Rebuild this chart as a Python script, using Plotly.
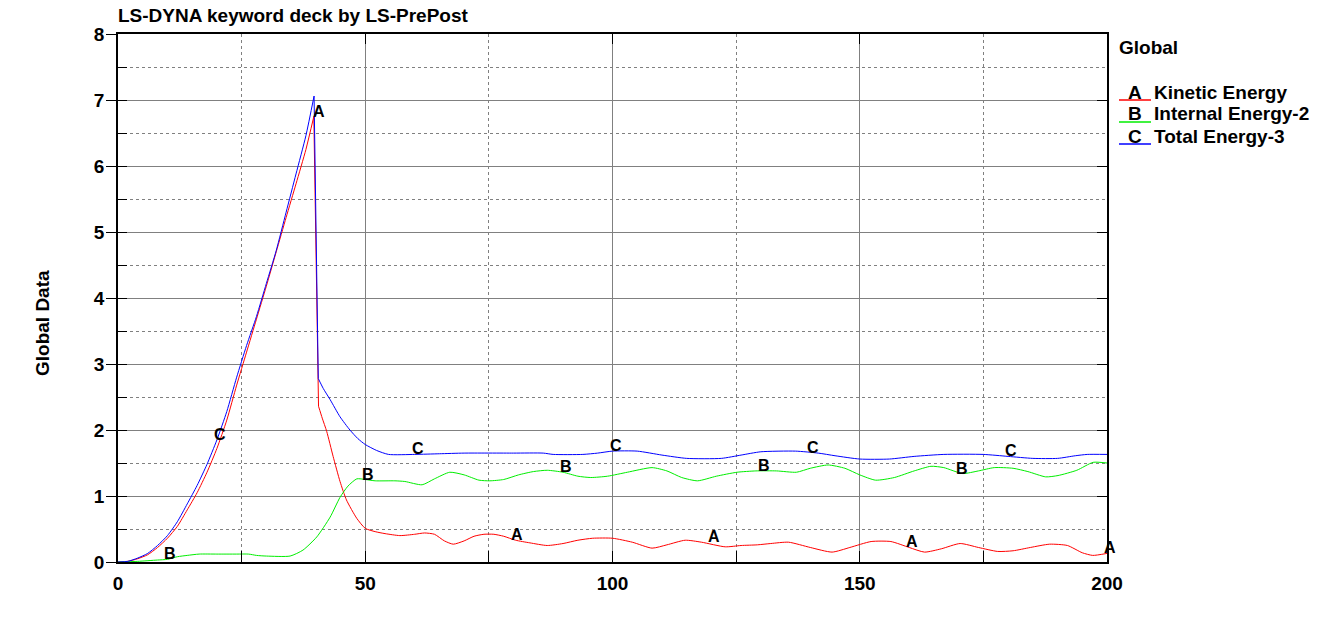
import numpy as np
import plotly.graph_objects as go

# ---------------- data ----------------
t_ke = [0, 2, 4, 6, 8, 10, 12, 14, 16, 18, 20, 22, 24, 26, 28, 30, 32, 34, 36, 38, 39.6,
        40.55, 41.3, 42.2, 43.5, 44.9, 46.2, 48.3, 50, 52, 54, 57, 60, 62, 64, 66, 67.8, 70, 72,
        74, 76, 78, 80.4, 83.3, 86.8, 90, 93, 96, 100, 104, 108, 111, 114.7, 118, 122.8, 126,
        129.3, 132, 135.6, 140, 144.4, 148, 152.3, 156.3, 160, 163.1, 166.5, 170.3, 174, 177.9,
        181, 184.5, 188.4, 192, 195, 197.1, 200]
kinetic = [0, 0.01, 0.05, 0.11, 0.22, 0.36, 0.54, 0.79, 1.05, 1.36, 1.72, 2.15, 2.68, 3.18, 3.68,
           4.18, 4.7, 5.22, 5.73, 6.25, 6.75, 2.36, 2.18, 1.98, 1.6, 1.22, 0.94, 0.66, 0.51,
           0.46, 0.43, 0.40, 0.42, 0.44, 0.42, 0.32, 0.27, 0.32, 0.39, 0.42, 0.42, 0.39, 0.33,
           0.29, 0.25, 0.28, 0.33, 0.36, 0.36, 0.30, 0.21, 0.26, 0.33, 0.30, 0.23, 0.25, 0.26,
           0.28, 0.30, 0.22, 0.15, 0.22, 0.31, 0.31, 0.22, 0.15, 0.20, 0.28, 0.22, 0.16, 0.17,
           0.22, 0.27, 0.25, 0.14, 0.10, 0.13]

t_ie = [0, 4, 8, 10, 12, 14, 16.4, 20, 24, 26.4, 28, 30, 34.8, 37.4, 40.2, 42.9, 44.9, 46.5, 48.3,
        50, 52, 56, 58, 61.5, 64, 67.1, 70, 73, 75.2, 78, 81, 84, 86.8, 90, 93, 95.6, 99, 103,
        108, 111, 114, 117.2, 121, 125.2, 129, 133.2, 137.2, 140, 143.6, 147, 150, 153.2, 157,
        161, 164.4, 167, 170.8, 174, 177.2, 181, 184, 187.6, 190.1, 193.9, 197.2, 200]
internal = [0, 0.01, 0.03, 0.04, 0.08, 0.10, 0.12, 0.12, 0.12, 0.12, 0.10, 0.09, 0.09, 0.18, 0.38,
            0.68, 0.98, 1.15, 1.26, 1.25, 1.23, 1.23, 1.22, 1.17, 1.26, 1.36, 1.32, 1.24, 1.23,
            1.25, 1.32, 1.37, 1.39, 1.36, 1.30, 1.28, 1.30, 1.36, 1.43, 1.38, 1.28, 1.23, 1.30,
            1.36, 1.38, 1.38, 1.36, 1.42, 1.47, 1.42, 1.32, 1.24, 1.28, 1.38, 1.45, 1.43, 1.34,
            1.38, 1.43, 1.42, 1.37, 1.29, 1.31, 1.39, 1.51, 1.50]

t_te = [0, 2, 4, 6, 8, 10, 12, 14, 16, 18, 20, 22, 24, 26, 28, 30, 32, 34, 36, 38, 39.65, 40.5,
        41.5, 42.9, 44.9, 46.9, 48.5, 50, 52.3, 54.7, 60, 65, 70, 80, 86, 88, 94, 97, 100, 105,
        110, 115, 122, 126, 130, 137, 141.6, 145, 150, 156, 161, 167, 175, 180, 185, 190, 193.6,
        196, 200]
total = [0, 0.01, 0.06, 0.13, 0.25, 0.40, 0.61, 0.88, 1.16, 1.48, 1.85, 2.28, 2.8, 3.28, 3.72,
         4.22, 4.72, 5.3, 5.88, 6.46, 7.06, 2.78, 2.63, 2.46, 2.2, 2.0, 1.87, 1.78, 1.69, 1.63,
         1.63, 1.64, 1.65, 1.65, 1.65, 1.63, 1.63, 1.65, 1.68, 1.68, 1.62, 1.57, 1.57, 1.62,
         1.67, 1.68, 1.65, 1.61, 1.56, 1.56, 1.60, 1.63, 1.63, 1.60, 1.57, 1.57, 1.61, 1.63, 1.63]

series_letters = ["A", "B", "C"]
series_names = ["Kinetic Energy", "Internal Energy-2", "Total Energy-3"]
series_colors = ["#ff0000", "#00ee00", "#0000ff"]
label_x = [[40, 80, 120, 160, 200], [10, 50, 90, 130, 170], [20, 60, 100, 140, 180]]

x_ticks = [0, 50, 100, 150, 200]
y_ticks = [0, 1, 2, 3, 4, 5, 6, 7, 8]

title_text = "LS-DYNA keyword deck by LS-PrePost"
y_title = "Global Data"
legend_title = "Global"

# ---------------- figure ----------------
FONT = "Liberation Sans, Arial, sans-serif"
W, H = 1321, 617
L, R, T, B = 118, 214, 34, 55
PW, PH = W - L - R, H - T - B

def px(x):
    return (x - L) / PW

def py(y):
    return (H - B - y) / PH

fig = go.Figure()
data = [(t_ke, kinetic), (t_ie, internal), (t_te, total)]

def segments(tx, ty):
    """split a series at its sharp drop (largest single-step fall)"""
    d = np.diff(np.array(ty))
    k = int(np.argmin(d))
    if d[k] < -1.0:
        return [(tx[:k + 1], ty[:k + 1], "spline"),
                (tx[k:k + 2], ty[k:k + 2], "linear"),
                (tx[k + 1:], ty[k + 1:], "spline")]
    return [(tx, ty, "spline")]

for (tx, ty), name, col in zip(data, series_names, series_colors):
    for sx, sy, shp in segments(tx, ty):
        fig.add_trace(go.Scatter(x=sx, y=sy, mode="lines", name=name,
                                 line=dict(color=col, width=1, shape=shp,
                                           **({"smoothing": 0.6} if shp == "spline" else {})),
                                 showlegend=False, hoverinfo="skip"))

# dummy traces so the overlay axes exist
for xa, ya in [("x", "y2"), ("x", "y3"), ("x2", "y")]:
    fig.add_trace(go.Scatter(x=[0], y=[0], xaxis=xa, yaxis=ya, mode="markers",
                             marker=dict(opacity=0), showlegend=False, hoverinfo="skip"))

annotations = []
# curve letters, anchored at the nearest sample of each curve
for (tx, ty), letters_x, letter in zip(data, label_x, series_letters):
    tx_a = np.array(tx)
    ty_a = np.array(ty)
    for lx in letters_x:
        idx = int(np.argmin(np.abs(tx_a - lx)))
        annotations.append(dict(x=lx, y=float(ty_a[idx]), xref="x", yref="y", text=letter,
                                showarrow=False, xanchor="center", yanchor="bottom",
                                xshift=3, yshift=-5,
                                font=dict(family=FONT, size=16, color="black", weight="bold")))

# title
annotations.append(dict(x=px(116), y=py(16), xref="paper", yref="paper", text=title_text,
                        showarrow=False, xanchor="left", yanchor="middle",
                        font=dict(family=FONT, size=19, color="black", weight="bold")))
# y title
annotations.append(dict(x=px(42), y=py(323), xref="paper", yref="paper", text=y_title,
                        showarrow=False, xanchor="center", yanchor="middle", textangle=-90,
                        font=dict(family=FONT, size=19, color="black", weight="bold")))
# legend
annotations.append(dict(x=px(1117), y=py(48), xref="paper", yref="paper", text=legend_title,
                        showarrow=False, xanchor="left", yanchor="middle",
                        font=dict(family=FONT, size=19, color="black", weight="bold")))
shapes = []
for i, (letter, name, col) in enumerate(zip(series_letters, series_names, series_colors)):
    yc = 92 + 22 * i
    annotations.append(dict(x=px(1135), y=py(yc), xref="paper", yref="paper", text=letter,
                            showarrow=False, xanchor="center", yanchor="middle",
                            font=dict(family=FONT, size=19, color="black", weight="bold")))
    annotations.append(dict(x=px(1152), y=py(yc), xref="paper", yref="paper", text=name,
                            showarrow=False, xanchor="left", yanchor="middle",
                            font=dict(family=FONT, size=19, color="black", weight="bold")))
    shapes.append(dict(type="line", xref="paper", yref="paper", x0=px(1119), x1=px(1151),
                       y0=py(yc + 8), y1=py(yc + 8), line=dict(color=col, width=1.5)))

tickfont = dict(family=FONT, size=19, color="black", weight="bold")
common = dict(showgrid=True, gridcolor="#808080", gridwidth=1, zeroline=False)

fig.update_layout(
    width=W, height=H, margin=dict(l=L, r=R, t=T, b=B),
    paper_bgcolor="white", plot_bgcolor="white",
    showlegend=False, hovermode=False,
    annotations=annotations, shapes=shapes,
    xaxis=dict(range=[0, 200], tickvals=x_ticks, ticks="inside", ticklen=11, tickcolor="black",
               showline=True, linecolor="black", linewidth=1.5, tickfont=tickfont,
               minor=dict(dtick=25, ticks="inside", ticklen=11, tickcolor="black",
                          showgrid=True, gridcolor="#808080", griddash="dot", gridwidth=1),
               ticklabelstandoff=3, **common),
    xaxis2=dict(range=[0, 200], overlaying="x", side="top", tickvals=x_ticks, ticks="inside",
                ticklen=10, tickcolor="black", showticklabels=False, showgrid=False,
                showline=True, linecolor="black", linewidth=1.5, zeroline=False),
    yaxis=dict(range=[0, 8], tickvals=y_ticks, ticks="inside", ticklen=9, tickcolor="black",
               showline=True, linecolor="black", linewidth=1.5, tickfont=tickfont,
               minor=dict(dtick=0.5, ticks="inside", ticklen=9, tickcolor="black",
                          showgrid=True, gridcolor="#808080", griddash="dot", gridwidth=1),
               ticklabelstandoff=8, **common),
    yaxis2=dict(range=[0, 8], overlaying="y", side="left", tickvals=y_ticks, ticks="outside",
                ticklen=11, tickcolor="black", showticklabels=False, showgrid=False,
                showline=False, zeroline=False),
    yaxis3=dict(range=[0, 8], overlaying="y", side="right", tickvals=y_ticks, ticks="inside",
                ticklen=10, tickcolor="black", showticklabels=False, showgrid=False,
                showline=True, linecolor="black", linewidth=1.5, zeroline=False),
)

# the page body has a default 8px margin; remove it so the figure sits at the window origin
fig.write_html("out.html", config={"displayModeBar": False},
               post_script="document.body.style.margin='0px';")
